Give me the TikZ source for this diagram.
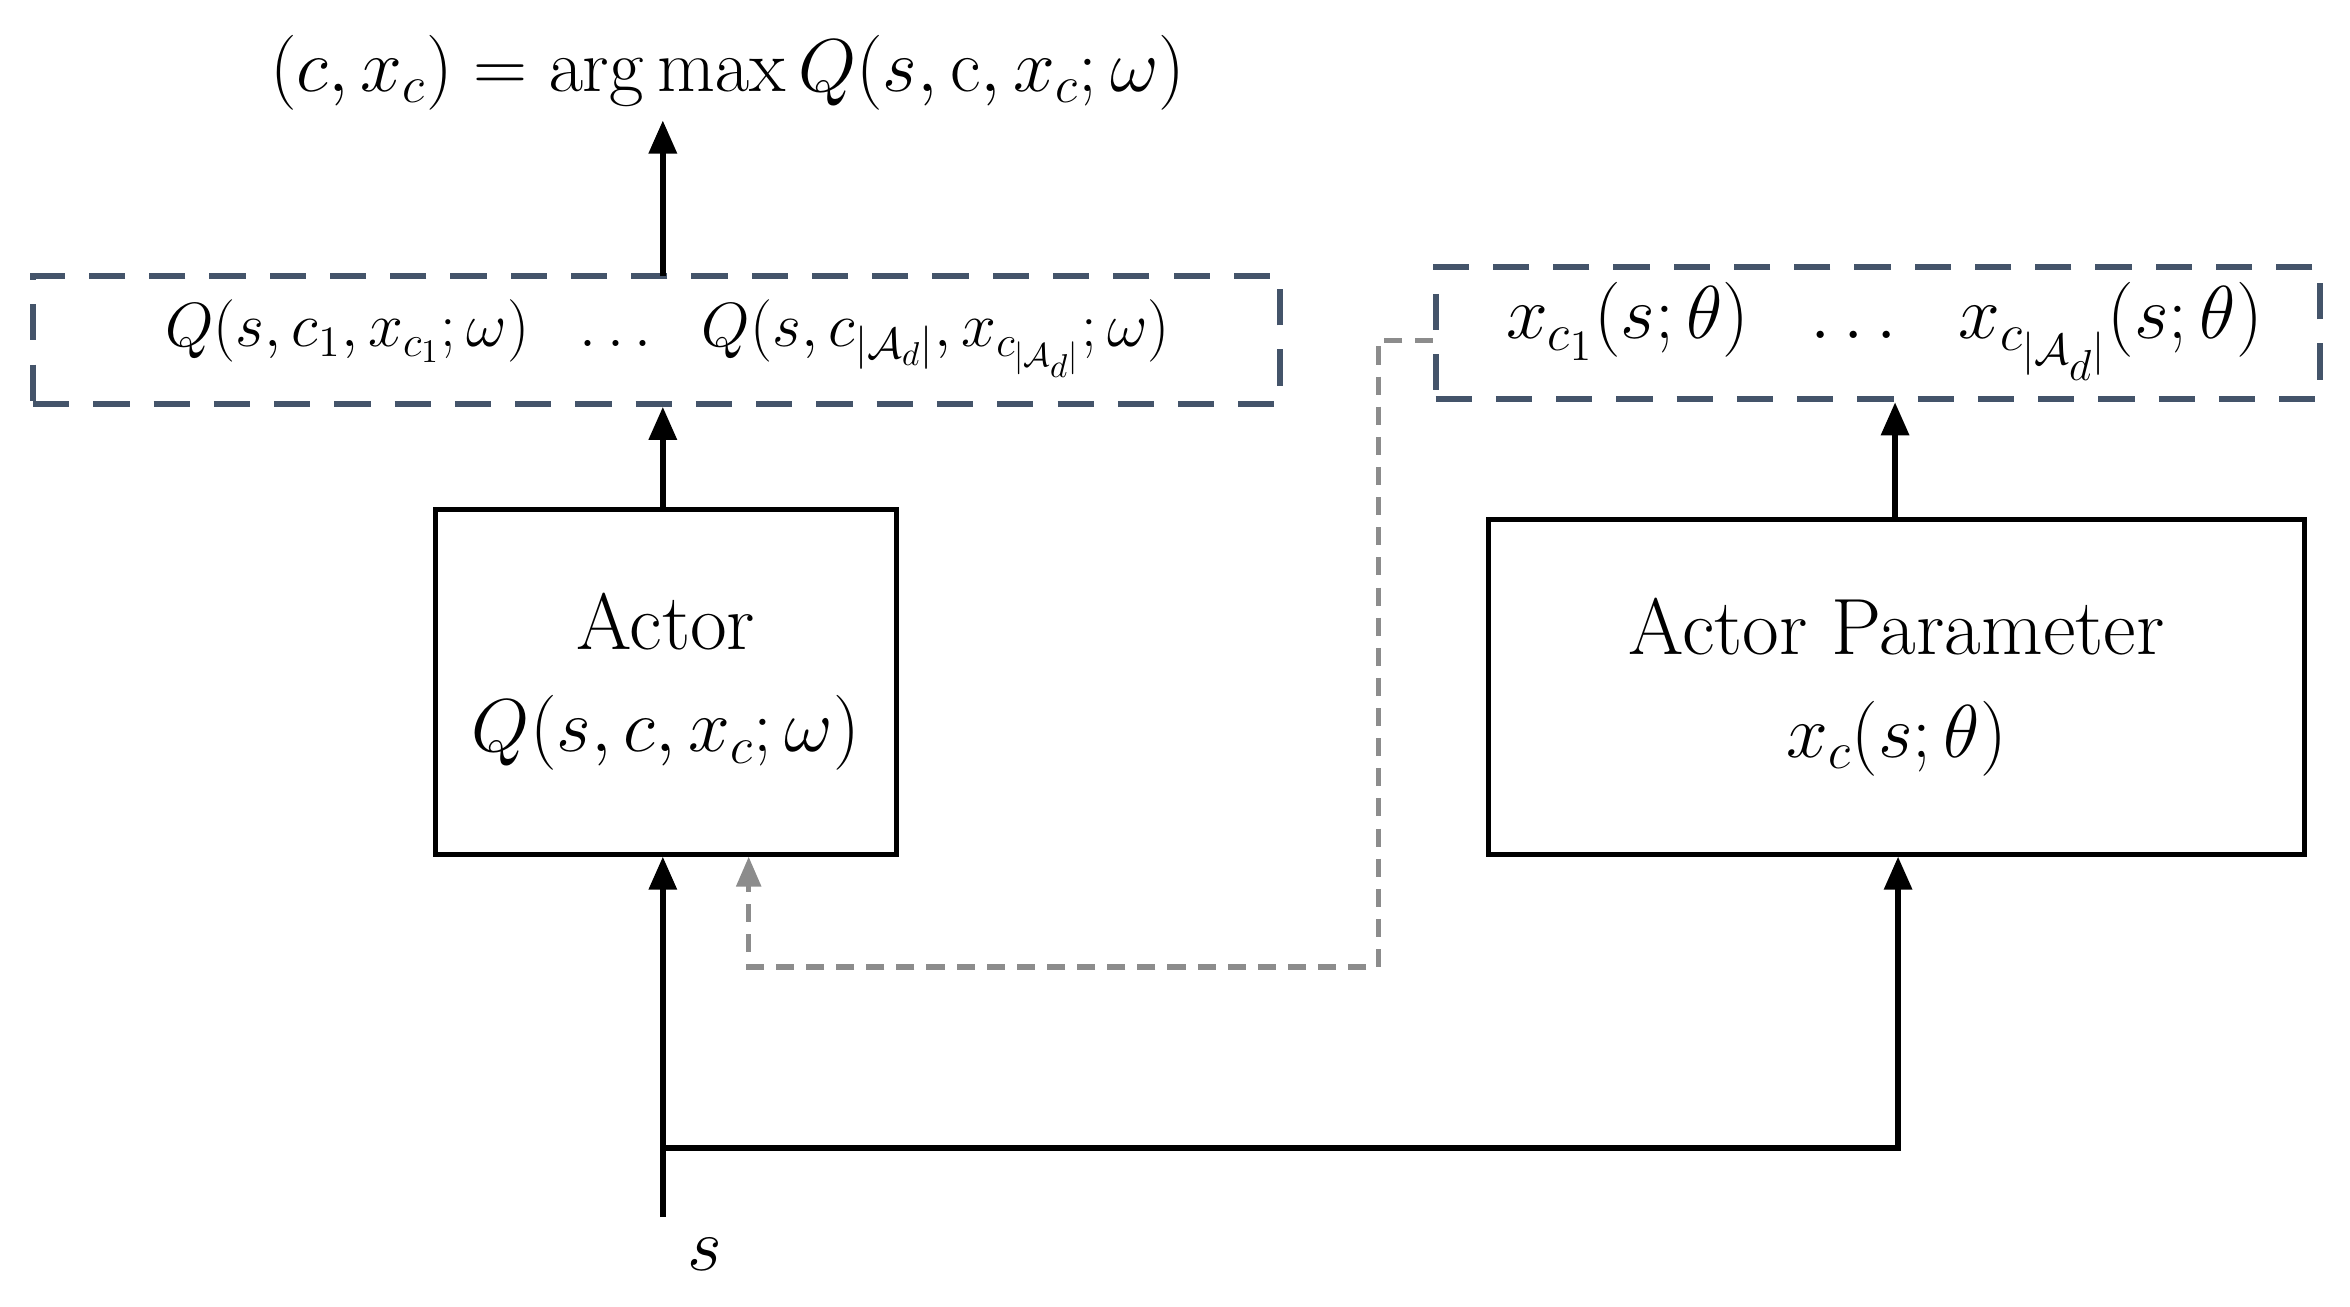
\documentclass[tikz,border=0pt]{standalone}
\usepackage{amsmath}
\usetikzlibrary{arrows.meta}
\definecolor{slate}{HTML}{44546A}
\definecolor{gr}{HTML}{8C8C8C}
\begin{document}
\begin{tikzpicture}[x=0.5pt,y=-0.5pt,
  box/.style={draw=black,line width=1.6pt,inner sep=0pt},
  dbox/.style={draw=slate,line width=2pt,dash pattern=on 12pt off 8pt,inner sep=0pt},
  arr/.style={line width=2pt,-{Triangle[length=11pt,width=9pt]}},
  garr/.style={line width=1.8pt,draw=gr,dash pattern=on 6pt off 4pt,-{Triangle[length=10pt,width=8pt]},gr},
  big/.style={font=\fontsize{26.5}{32}\selectfont},
  mid/.style={font=\fontsize{22}{26}\selectfont}]
\useasboundingbox (0,0) rectangle (1560,867);
\node[big] (title) at (483,48) {$(c,x_c)=\arg\max Q(s,\mathrm{c},x_c;\omega)$};
\node[dbox,minimum width=414pt,minimum height=42.5pt] (qb) at (436,225.5) {};
\node[mid] at (443,225) {$Q(s,c_1,x_{c_1};\omega)\ \ \ldots\ \ Q(s,c_{|\mathcal{A}_d|},x_{c_{|\mathcal{A}_d|}};\omega)$};
\node[dbox,minimum width=293.5pt,minimum height=44pt] (xb) at (1246.5,221) {};
\node[font=\fontsize{27}{32}\selectfont] at (1251,220) {$x_{c_1}(s;\theta)\ \ \ldots\ \ x_{c_{|\mathcal{A}_d|}}(s;\theta)$};
\node[box,minimum width=153pt,minimum height=114.5pt,align=center,big] (actor) at (442,452.5) {Actor\\[2pt]$Q(s,c,x_c;\omega)$};
\node[box,minimum width=271pt,minimum height=111pt,align=center,big] (ap) at (1259,456) {Actor Parameter\\[2pt]$x_c(s;\theta)$};
\node[big] (s) at (468,833) {$s$};
\coordinate (s0) at (440,808);
\coordinate (br) at (440,762);
\coordinate (g1) at (915,226);
\coordinate (g2) at (915,642);
\coordinate (g3) at (497,642);
\draw[arr] (440,183) -- (title.south -| 440,0);
\draw[arr] (actor.north -| 440,0) -- (qb.south -| 440,0);
\draw[arr] (ap.north -| 1258,0) -- (xb.south -| 1258,0);
\draw[arr] (s0) -- (actor.south -| 440,0);
\draw[line width=2pt,-{Triangle[length=11pt,width=9pt]}] (br) -| (ap.south -| 1260,0);
\draw[garr] (xb.west |- g1) -- (g1) -- (g2) -- (g3) -- (actor.south -| 497,0);
\end{tikzpicture}
\end{document}
